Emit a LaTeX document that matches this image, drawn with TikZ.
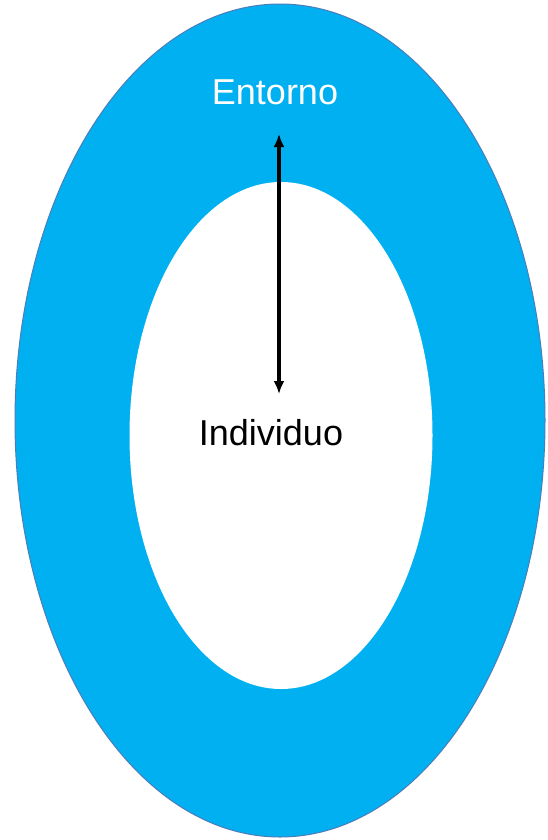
\documentclass[tikz,border=0pt]{standalone}
\usepackage{fontspec}
\setmainfont{Liberation Sans}
\usetikzlibrary{arrows.meta}
\definecolor{ringblue}{HTML}{00B0F0}
\definecolor{ringedge}{HTML}{4A7EBB}
\tikzset{
  outerring/.style={fill=ringblue, draw=ringedge, line width=1pt},
  innercore/.style={fill=white, draw=none},
  label/.style={font=\fontsize{36}{40}\selectfont, anchor=base, inner sep=0pt},
  link/.style={{Latex[length=13pt,width=11pt]}-{Latex[length=13pt,width=11pt]}, line width=3.5pt, black}
}
\begin{document}
\begin{tikzpicture}[x=1pt,y=-1pt]
\useasboundingbox (0,0) rectangle (547,840);
\fill[white] (0,0) rectangle (547,840);
\draw[outerring] (280,420.5) ellipse [x radius=265, y radius=416.5];
\fill[innercore] (281,435.5) ellipse [x radius=151.5, y radius=253.5];
\node[label, text=white] (entorno) at (275,105) {Entorno};
\node[label, text=black] (individuo) at (271,445) {Individuo};
\coordinate (top) at (279,134);
\coordinate (bottom) at (279,394);
\draw[link] (top) -- (bottom);
\end{tikzpicture}
\end{document}
